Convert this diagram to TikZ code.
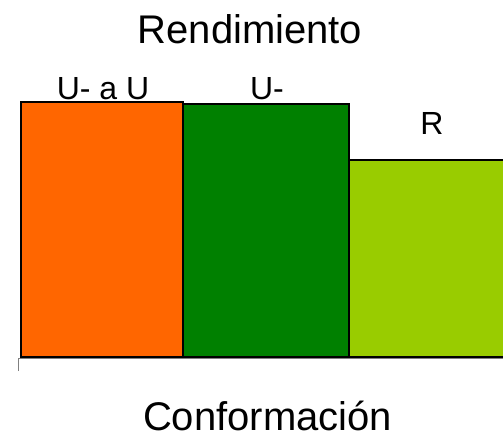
\documentclass[tikz,border=0pt]{standalone}
\usepackage{fontspec}
\setmainfont{Liberation Sans}
\usepackage{tikz}
\usetikzlibrary{positioning}

\definecolor{barorange}{HTML}{FF6600}
\definecolor{bargreen}{HTML}{008000}
\definecolor{barlime}{HTML}{99CC00}

\begin{document}
\begin{tikzpicture}[
    x=1pt, y=-1pt,
    bar/.style={draw=black, line width=1.5pt},
    barlabel/.style={font=\fontsize{32}{36}\selectfont, anchor=base, inner sep=0pt},
    title/.style={font=\fontsize{40}{44}\selectfont, anchor=base, inner sep=0pt},
    axis/.style={draw=gray, line width=1pt}
]

    \useasboundingbox (0, 0) rectangle (503, 432);

    % Title
    \node[title] (yname) at (250, 43) {Rendimiento};

    % Bars
    \draw[bar, fill=barorange] (21, 357) rectangle (183, 102);
    \draw[bar, fill=bargreen] (183, 357) rectangle (349, 104);
    \draw[bar, fill=barlime] (349, 357) rectangle (510, 160);

    % Bar labels
    \node[barlabel] (uau) at (103, 99) {U- a U};
    \node[barlabel] (um) at (267, 99) {U-};
    \node[barlabel] (r) at (432, 134) {R};

    % Axis
    \coordinate (origin) at (18, 358.5);
    \coordinate (tick) at (18, 371);
    \coordinate (axisend) at (510, 358.5);
    \draw[axis] (tick) -- (origin) -- (axisend);

    % Axis title
    \node[title] (xname) at (267.5, 430) {Conformación};

\end{tikzpicture}
\end{document}
